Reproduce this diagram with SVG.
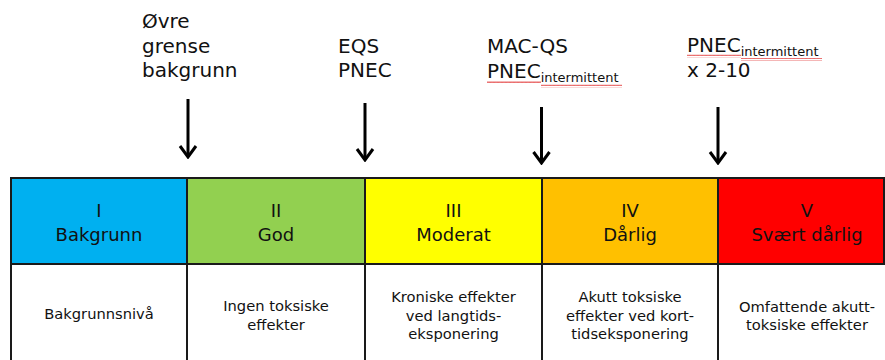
<svg xmlns="http://www.w3.org/2000/svg" width="885" height="360" viewBox="0 0 885 360">
<defs>
<style>
text{font-family:"DejaVu Sans",Verdana,sans-serif;fill:#111}
.lab{font-size:20px}
.sub{font-size:13px}
.hd{font-size:18px;text-anchor:middle}
.ds{font-size:14.7px;text-anchor:middle}
.cell{stroke:#1a1a1a;stroke-width:2}
.arr{fill:none;stroke:#000;stroke-width:3}
</style>
<marker id="ah" markerUnits="userSpaceOnUse" markerWidth="16" markerHeight="20" refX="14" refY="10" orient="auto" viewBox="0 0 16 20">
<polyline points="3,2 14,10 3,18" fill="none" stroke="#000" stroke-width="3"/>
</marker>
<pattern id="wv" width="4" height="3" patternUnits="userSpaceOnUse">
<path d="M0,2 L1,0.5 L2,2 L3,0.5 L4,2" fill="none" stroke="#e03030" stroke-width="0.8"/>
</pattern>
</defs>
<rect width="885" height="360" fill="#fff"/>

<g id="labels">
<g id="label-ovre">
<text class="lab" x="142" y="28">Øvre</text>
<text class="lab" x="142" y="53">grense</text>
<text class="lab" x="142" y="77">bakgrunn</text>
</g>
<g id="label-eqs">
<text class="lab" x="338" y="53">EQS</text>
<text class="lab" x="338" y="77">PNEC</text>
</g>
<g id="label-macqs">
<text class="lab" x="487" y="53">MAC-QS</text>
<text class="lab" x="487" y="78">PNEC<tspan class="sub" dy="4">intermittent</tspan></text>
<rect x="487" y="80.5" width="54" height="3" fill="url(#wv)"/>
<rect x="541" y="84.5" width="81" height="3" fill="url(#wv)"/>
</g>
<g id="label-pnec">
<text class="lab" x="687" y="52">PNEC<tspan class="sub" dy="4">intermittent</tspan></text>
<text class="lab" x="687" y="77">x 2-10</text>
<rect x="687" y="54.5" width="54" height="3" fill="url(#wv)"/>
<rect x="741" y="58" width="81" height="3" fill="url(#wv)"/>
</g>
</g>

<g id="connectors">
<path class="arr" d="M188,99 V157" marker-end="url(#ah)"/>
<path class="arr" d="M365,103 V160" marker-end="url(#ah)"/>
<path class="arr" d="M541.5,107 V163" marker-end="url(#ah)"/>
<path class="arr" d="M718,107 V163" marker-end="url(#ah)"/>
</g>

<g id="class-I">
<rect class="cell" x="11" y="178" width="176" height="86" fill="#00B0F0"/>
<rect class="cell" x="11" y="264" width="176" height="100" fill="#fff"/>
<text class="hd" x="99" y="217">I</text>
<text class="hd" x="99" y="241">Bakgrunn</text>
<text class="ds" x="99" y="319">Bakgrunnsnivå</text>
</g>
<g id="class-II">
<rect class="cell" x="187" y="178" width="178" height="86" fill="#92D050"/>
<rect class="cell" x="187" y="264" width="178" height="100" fill="#fff"/>
<text class="hd" x="276" y="217">II</text>
<text class="hd" x="276" y="241">God</text>
<text class="ds" x="276" y="311">Ingen  toksiske</text>
<text class="ds" x="276" y="330">effekter</text>
</g>
<g id="class-III">
<rect class="cell" x="365" y="178" width="177" height="86" fill="#FFFF00"/>
<rect class="cell" x="365" y="264" width="177" height="100" fill="#fff"/>
<text class="hd" x="453.5" y="217">III</text>
<text class="hd" x="453.5" y="241">Moderat</text>
<text class="ds" x="453.5" y="302">Kroniske effekter</text>
<text class="ds" x="453.5" y="320.5">ved langtids-</text>
<text class="ds" x="453.5" y="339">eksponering</text>
</g>
<g id="class-IV">
<rect class="cell" x="542" y="178" width="176" height="86" fill="#FFC000"/>
<rect class="cell" x="542" y="264" width="176" height="100" fill="#fff"/>
<text class="hd" x="630" y="217">IV</text>
<text class="hd" x="630" y="241">Dårlig</text>
<text class="ds" x="630" y="302">Akutt toksiske</text>
<text class="ds" x="630" y="320.5">effekter ved kort-</text>
<text class="ds" x="630" y="339">tidseksponering</text>
</g>
<g id="class-V">
<rect class="cell" x="718" y="178" width="166" height="86" fill="#FF0000"/>
<rect class="cell" x="718" y="264" width="180" height="100" fill="#fff"/>
<text class="hd" x="807" y="217">V</text>
<text class="hd" x="807" y="241">Svært dårlig</text>
<text class="ds" x="807" y="311.5">Omfattende akutt-</text>
<text class="ds" x="807" y="330">toksiske effekter</text>
</g>
</svg>
